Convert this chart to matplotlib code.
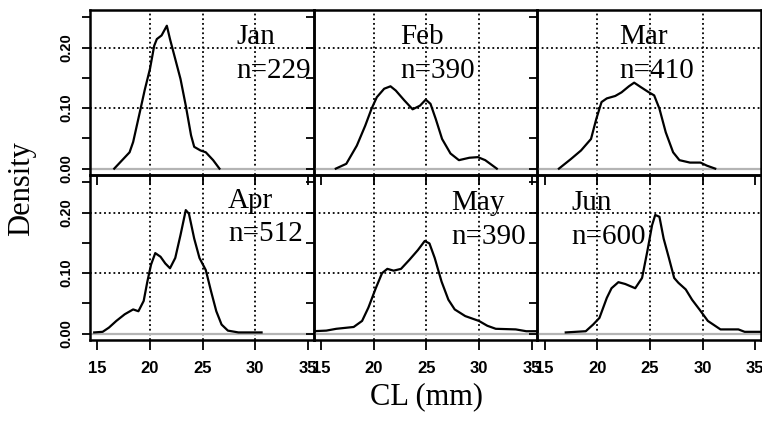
import matplotlib
matplotlib.use("Agg")
import matplotlib.pyplot as plt
from matplotlib.ticker import FixedLocator, FixedFormatter

# ---- data ----
months = ["Jan", "Feb", "Mar", "Apr", "May", "Jun"]
counts = ["n=229", "n=390", "n=410", "n=512", "n=390", "n=600"]

jan_x = [16.6, 18.06, 18.4, 19.03, 19.5, 20.0, 20.4, 20.65, 21.1, 21.6, 21.9, 22.4, 22.9, 23.4, 23.9, 24.2, 24.8, 25.3, 26.0, 26.6]
jan_y = [0.0, 0.027, 0.044, 0.093, 0.13, 0.165, 0.203, 0.214, 0.22, 0.236, 0.214, 0.181, 0.148, 0.104, 0.055, 0.036, 0.030, 0.027, 0.014, 0.0]

feb_x = [16.4, 17.4, 18.4, 19.2, 19.8, 20.3, 21.0, 21.6, 22.1, 22.9, 23.7, 24.4, 24.95, 25.4, 25.9, 26.5, 27.3, 28.1, 29.1, 29.9, 30.6, 31.7]
feb_y = [0.0, 0.008, 0.038, 0.071, 0.099, 0.118, 0.132, 0.136, 0.129, 0.113, 0.098, 0.104, 0.114, 0.107, 0.082, 0.049, 0.025, 0.014, 0.018, 0.019, 0.014, 0.0]

mar_x = [16.35, 17.5, 18.45, 19.4, 19.9, 20.4, 20.9, 21.7, 22.3, 23.0, 23.5, 24.1, 24.9, 25.4, 25.9, 26.5, 27.2, 27.8, 28.8, 29.8, 30.4, 31.2]
mar_y = [0.0, 0.016, 0.030, 0.049, 0.082, 0.110, 0.116, 0.120, 0.126, 0.136, 0.142, 0.135, 0.126, 0.121, 0.099, 0.060, 0.027, 0.014, 0.010, 0.010, 0.005, 0.0]

apr_x = [14.7, 15.5, 16.1, 16.8, 17.6, 18.4, 18.9, 19.4, 19.75, 20.1, 20.5, 21.0, 21.45, 21.9, 22.4, 22.9, 23.4, 23.7, 24.2, 24.7, 25.3, 25.8, 26.3, 26.8, 27.4, 28.4, 30.6]
apr_y = [0.002, 0.003, 0.010, 0.021, 0.032, 0.040, 0.037, 0.054, 0.086, 0.114, 0.133, 0.127, 0.116, 0.108, 0.125, 0.163, 0.204, 0.198, 0.157, 0.125, 0.105, 0.070, 0.037, 0.015, 0.005, 0.002, 0.002]

may_x = [14.2, 15.5, 16.45, 18.1, 18.9, 19.5, 20.2, 20.8, 21.3, 21.9, 22.6, 23.4, 24.2, 24.85, 25.3, 25.8, 26.45, 27.1, 27.7, 28.7, 30.0, 30.8, 31.6, 33.5, 34.5, 35.8]
may_y = [0.004, 0.005, 0.008, 0.011, 0.021, 0.043, 0.075, 0.100, 0.107, 0.104, 0.107, 0.122, 0.138, 0.153, 0.149, 0.125, 0.086, 0.056, 0.040, 0.029, 0.021, 0.013, 0.008, 0.007, 0.004, 0.004]

jun_x = [17.0, 18.9, 19.6, 20.2, 20.9, 21.35, 22.0, 22.65, 23.6, 24.25, 24.75, 25.2, 25.5, 25.9, 26.3, 26.8, 27.3, 27.7, 28.4, 29.0, 29.7, 30.5, 31.7, 33.4, 34.0, 35.8]
jun_y = [0.002, 0.004, 0.015, 0.026, 0.059, 0.075, 0.085, 0.082, 0.075, 0.092, 0.136, 0.179, 0.196, 0.193, 0.157, 0.125, 0.092, 0.084, 0.073, 0.056, 0.040, 0.021, 0.007, 0.007, 0.003, 0.003]

series_x = [jan_x, feb_x, mar_x, apr_x, may_x, jun_x]
series_y = [jan_y, feb_y, mar_y, apr_y, may_y, jun_y]

x_ticks = [15, 20, 25, 30, 35]
x_ticklabels = ["15", "20", "25", "30", "35"]
y_ticks = [0.0, 0.05, 0.10, 0.15, 0.20, 0.25]
y_ticklabels = ["0.00", "", "0.10", "", "0.20", ""]
x_grid = [20, 25, 30]
y_grid = [0.10, 0.20]

# ---- layout ----
W, H = 762, 432
fig = plt.figure(figsize=(W / 100, H / 100), dpi=100)
fig.patch.set_facecolor("white")

left_px, right_px = 90, 761
top_px, mid_px, bot_px = 10, 175, 340
pw = (right_px - left_px) / 3.0

# text anchor positions (data coords) per panel
label_x = [28.2, 22.5, 22.1, 27.4, 27.4, 17.5]
label_y1 = [0.206, 0.206, 0.206, 0.208, 0.205, 0.205]
label_y2 = [0.149, 0.149, 0.149, 0.153, 0.148, 0.148]

serif = ["Liberation Serif", "DejaVu Serif"]
sans = ["Liberation Sans", "DejaVu Sans"]

for i in range(6):
    r, c = divmod(i, 3)
    x0 = left_px + c * pw
    y_top = top_px if r == 0 else mid_px
    y_bot = mid_px if r == 0 else bot_px
    ax = fig.add_axes([x0 / W, (H - y_bot) / H, pw / W, (y_bot - y_top) / H])
    ax.set_facecolor("none")
    ax.set_xlim(14.3, 35.55)
    ax.set_ylim(-0.0105, 0.262)

    # grid
    for gx in x_grid:
        ax.axvline(gx, color="black", lw=1.3, ls=(0, (1, 1.6)), zorder=1)
    for gy in y_grid:
        ax.axhline(gy, color="black", lw=1.3, ls=(0, (1, 1.6)), zorder=1)
    ax.axhline(0.0, color="#b4b4b4", lw=1.6, zorder=1)

    ax.plot(series_x[i], series_y[i], color="black", lw=1.6, zorder=3,
            solid_joinstyle="round")

    ax.text(label_x[i], label_y1[i], months[i], family=serif, fontsize=21,
            ha="left", va="baseline", zorder=4)
    ax.text(label_x[i], label_y2[i], counts[i], family=serif, fontsize=21,
            ha="left", va="baseline", zorder=4)

    for sp in ax.spines.values():
        sp.set_linewidth(1.8)
        sp.set_color("black")

    ax.yaxis.set_major_locator(FixedLocator(y_ticks))
    ax.xaxis.set_major_locator(FixedLocator(x_ticks))
    ax.tick_params(axis="y", direction="out", length=6, width=1.3, pad=6)
    ax.tick_params(axis="x", direction="out", length=7, width=1.3, pad=8)

    if c == 0:
        ax.yaxis.set_major_formatter(FixedFormatter(y_ticklabels))
        for t in ax.get_yticklabels():
            t.set_rotation(90)
            t.set_va("center")
            t.set_fontfamily(sans)
            t.set_fontweight("bold")
            t.set_fontsize(10.5)
    else:
        ax.set_yticklabels([])

    if r == 1:
        ax.xaxis.set_major_formatter(FixedFormatter(x_ticklabels))
        for t in ax.get_xticklabels():
            t.set_fontfamily(sans)
            t.set_fontweight("bold")
            t.set_fontsize(12)
    else:
        ax.set_xticklabels([])

fig.text(22 / W, 1 - 189 / H, "Density", family=serif, fontsize=22,
         rotation=90, ha="center", va="center")
fig.text(426 / W, 1 - 397 / H, "CL (mm)", family=serif, fontsize=22,
         ha="center", va="center")

fig.savefig("out.png", dpi=100, facecolor="white")
